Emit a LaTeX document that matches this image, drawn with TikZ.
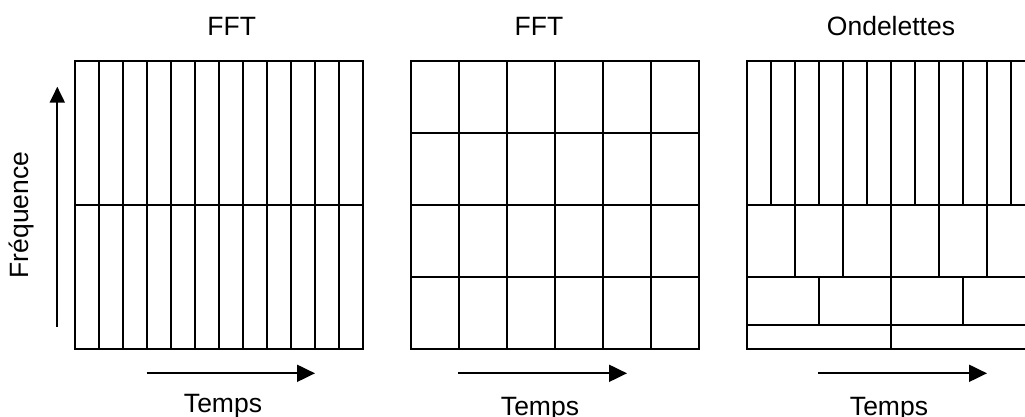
\documentclass[tikz,border=0pt]{standalone}
\usepackage{fontspec}
\setmainfont{Liberation Sans}
\usetikzlibrary{arrows.meta}
\begin{document}
\begin{tikzpicture}[x=1pt,y=-1pt,
  gridline/.style={line width=1.6pt, line cap=rect},
  axisarrow/.style={line width=2pt, -{Triangle[length=18pt,width=17pt]}},
  vaxisarrow/.style={line width=2pt, -{Triangle[length=16pt,width=15pt]}},
  txt/.style={font=\fontsize{26.5}{30}\selectfont, inner sep=0pt, anchor=base}]
\useasboundingbox (0,0) rectangle (1025,417);
\clip (0,0) rectangle (1025,417);
% grid 1 : FFT (narrow windows)
\draw[gridline] (75,61) rectangle (363,349);
\foreach \i in {1,...,11} \draw[gridline] ({75+24*\i},61) -- ({75+24*\i},349);
\draw[gridline] (75,205) -- (363,205);
% grid 2 : FFT (wider windows)
\draw[gridline] (411,61) rectangle (699,349);
\foreach \i in {1,...,5} \draw[gridline] ({411+48*\i},61) -- ({411+48*\i},349);
\foreach \j in {1,2,3} \draw[gridline] (411,{61+72*\j}) -- (699,{61+72*\j});
% grid 3 : Ondelettes
\draw[gridline] (747,61) rectangle (1035,349);
\draw[gridline] (747,205) -- (1035,205);
\draw[gridline] (747,277) -- (1035,277);
\draw[gridline] (747,325) -- (1035,325);
\foreach \i in {1,...,11} \draw[gridline] ({747+24*\i},61) -- ({747+24*\i},205);
\foreach \i in {1,...,5} \draw[gridline] ({747+48*\i},205) -- ({747+48*\i},277);
\foreach \i in {1,2,3} \draw[gridline] ({747+72*\i},277) -- ({747+72*\i},325);
\draw[gridline] (891,325) -- (891,349);
% titles
\node[txt] (title1) at (231.7,36) {FFT};
\node[txt] (title2) at (539,36) {FFT};
\node[txt] (title3) at (891,36) {Ondelettes};
% axis labels
\node[txt, rotate=90] (freq) at (28.5,215) {Fréquence};
\node[txt] (temps1) at (223,412.5) {Temps};
\node[txt] (temps2) at (540,415) {Temps};
\node[txt] (temps3) at (889,415) {Temps};
% arrows
\coordinate (f0) at (57.3,326.7);
\coordinate (f1) at (57.3,86.7);
\coordinate (a0) at (146.7,373.3);
\coordinate (a1) at (315,373.3);
\coordinate (b0) at (458,373.3);
\coordinate (b1) at (627,373.3);
\coordinate (c0) at (818,373.3);
\coordinate (c1) at (987,373.3);
\draw[vaxisarrow] (f0) -- (f1);
\draw[axisarrow] (a0) -- (a1);
\draw[axisarrow] (b0) -- (b1);
\draw[axisarrow] (c0) -- (c1);
\end{tikzpicture}
\end{document}
